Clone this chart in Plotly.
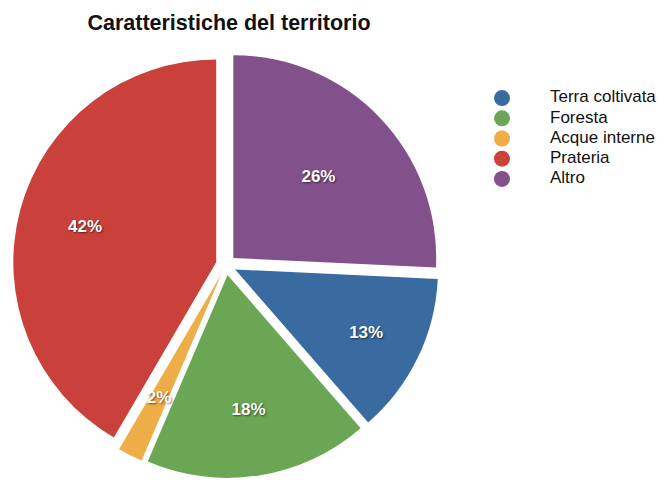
import plotly.graph_objects as go

categories = ["Terra coltivata", "Foresta", "Acque interne", "Prateria", "Altro"]
values = [13, 18, 2, 42, 26]
colors = ["#3A6BA0", "#6AA653", "#EEAD47", "#CA403A", "#82508A"]
title_text = "Caratteristiche del territorio"

# which overlay carries each slice's percentage label (label placement only)
label_layer = ["full", "ring", "inner", "ring", "full"]

FONT = "Liberation Sans, Arial, Helvetica, sans-serif"

# page body has an 8px margin; the figure is sized/positioned to compensate
W, H = 657, 470

total = sum(values)
rotation = values[-1] / total * 360.0

def tpl(layer):
    return ["<b>%{value}%</b>" if l == layer else "" for l in label_layer]

label_font = dict(family=FONT, size=17, color="white",
                  shadow="1px 1px 2px rgba(0,0,0,0.55)")

dom_x = [0.0076, 0.656]
dom_y = [0.0, 0.9064]
PULL = 0.05
clear = ["rgba(0,0,0,0)"] * len(values)

common = dict(labels=categories, values=values, sort=False,
              direction="clockwise", rotation=rotation,
              pull=[PULL] * len(values), showlegend=False,
              textposition="inside", insidetextorientation="horizontal",
              textfont=label_font)

fig = go.Figure()
# the visible pie
fig.add_trace(go.Pie(
    **common,
    marker=dict(colors=colors, line=dict(width=0)),
    texttemplate=tpl("full"),
    domain=dict(x=dom_x, y=dom_y),
    hoverinfo="label+percent",
))

# transparent ring copy: places labels at ~2/3 of the radius
fig.add_trace(go.Pie(
    **common,
    hole=0.34,
    marker=dict(colors=clear, line=dict(width=0)),
    texttemplate=tpl("ring"),
    domain=dict(x=dom_x, y=dom_y),
    hoverinfo="skip",
))

# transparent smaller copy for the label of the tiny slice
k = 0.74
cx = (dom_x[0] + dom_x[1]) / 2
cy = (dom_y[0] + dom_y[1]) / 2
hx = (dom_x[1] - dom_x[0]) / 2 * k
hy = (dom_y[1] - dom_y[0]) / 2 * k
fig.add_trace(go.Pie(
    **common,
    marker=dict(colors=clear, line=dict(width=0)),
    texttemplate=tpl("inner"),
    domain=dict(x=[cx - hx, cx + hx], y=[cy - hy, cy + hy]),
    hoverinfo="skip",
))

# legend (circle markers + labels)
idx = list(range(len(categories)))
fig.add_trace(go.Scatter(
    x=[0] * len(categories), y=idx, mode="markers",
    marker=dict(color=colors, size=16, symbol="circle"),
    xaxis="x2", yaxis="y2", showlegend=False, hoverinfo="skip",
    cliponaxis=False,
))
fig.add_trace(go.Scatter(
    x=[1] * len(categories), y=idx, mode="text",
    text=categories, textposition="middle right",
    textfont=dict(family=FONT, size=17, color="#111111"),
    xaxis="x2", yaxis="y2", showlegend=False, hoverinfo="skip",
    cliponaxis=False,
))

fig.update_layout(
    width=W, height=H,
    margin=dict(l=0, r=0, t=0, b=0),
    paper_bgcolor="white", plot_bgcolor="white",
    title=dict(text="<b>" + title_text + "</b>", x=0.3364, xanchor="center",
               y=0.9702, yanchor="middle",
               font=dict(family=FONT, size=21.5, color="#111111")),
    xaxis2=dict(domain=[472 / W, 1.0], range=[-0.4583, 3.3958], visible=False,
                anchor="y2", fixedrange=True),
    yaxis2=dict(domain=[0.6149, 0.8298], range=[4.5, -0.5], visible=False,
                anchor="x2", fixedrange=True),
    uniformtext=dict(minsize=17, mode="show"),
)

fig.write_html("out.html")
